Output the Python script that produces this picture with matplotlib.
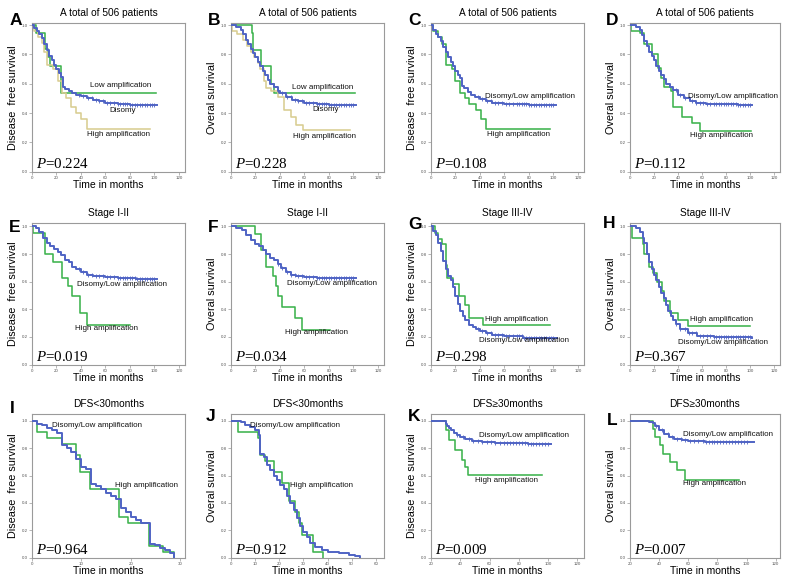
import numpy as np
import matplotlib
matplotlib.use("Agg")
import matplotlib.pyplot as plt

plt.rcParams['font.family'] = ['Liberation Sans', 'DejaVu Sans']
plt.rcParams['mathtext.fontset'] = 'custom'
plt.rcParams['mathtext.it'] = 'Liberation Serif:italic'
plt.rcParams['mathtext.rm'] = 'Liberation Serif'

# ---------------- data ----------------
TITLES = ["A total of 506 patients"] * 4 + ["Stage I-II"] * 2 + ["Stage III-IV"] * 2 + \
         ["DFS<30months"] * 2 + ["DFS\u226530months"] * 2
LETTERS = ["A", "B", "C", "D", "E", "F", "G", "H", "I", "J", "K", "L"]
YLABELS = ["Disease  free survival", "Overal survival"] * 6
P_VALUES = ["0.224", "0.228", "0.108", "0.112", "0.019", "0.034",
            "0.298", "0.367", "0.964", "0.912", "0.009", "0.007"]

# Panel A (DFS, three groups)
A_dis_t = [0, 2, 4, 6, 8, 10, 12, 14, 16, 18, 20, 22, 24, 25, 27, 30, 33, 36, 40, 45, 50, 55, 60, 70, 80, 90, 102]
A_dis_s = [1.0, 0.98, 0.96, 0.94, 0.91, 0.87, 0.83, 0.79, 0.76, 0.73, 0.70, 0.67, 0.645, 0.58, 0.565, 0.55, 0.535, 0.525, 0.515, 0.50, 0.49, 0.48, 0.47, 0.46, 0.455, 0.452, 0.452]
A_low_t = [0, 3.5, 11, 13, 14.5, 24, 101]
A_low_s = [1.0, 0.95, 0.84, 0.78, 0.72, 0.54, 0.54]
A_high_t = [0, 2, 5, 8, 10, 12, 17, 21, 24.5, 28, 32, 36, 40, 45, 96]
A_high_s = [1.0, 0.96, 0.92, 0.88, 0.82, 0.73, 0.70, 0.62, 0.54, 0.50, 0.44, 0.40, 0.36, 0.29, 0.29]

# Panel B (OS, three groups)
B_dis_t = [0, 4, 8, 10, 12, 14, 16, 18, 20, 22, 24, 26, 28, 30, 32, 35, 38, 40, 45, 50, 55, 60, 70, 80, 102]
B_dis_s = [1.0, 0.99, 0.97, 0.94, 0.90, 0.87, 0.84, 0.81, 0.78, 0.75, 0.72, 0.69, 0.66, 0.625, 0.60, 0.575, 0.55, 0.535, 0.51, 0.49, 0.48, 0.47, 0.46, 0.455, 0.455]
B_low_t = [0, 17, 18, 24.3, 32.5, 35.3, 101]
B_low_s = [1.0, 0.945, 0.83, 0.72, 0.60, 0.54, 0.54]
B_high_t = [0, 1, 5, 10, 13, 16, 19, 22, 24, 27, 29, 33, 38, 43.5, 49, 53, 59, 97]
B_high_s = [1.0, 0.96, 0.94, 0.90, 0.86, 0.82, 0.78, 0.74, 0.70, 0.62, 0.57, 0.55, 0.51, 0.42, 0.37, 0.32, 0.285, 0.285]

# Panel C (DFS, two groups)
C_dis_t = [0, 2, 4, 6, 8, 10, 12, 14, 16, 18, 20, 22, 24, 25, 27, 30, 33, 36, 40, 45, 50, 60, 70, 80, 90, 102]
C_dis_s = [1.0, 0.97, 0.94, 0.92, 0.89, 0.85, 0.82, 0.78, 0.75, 0.72, 0.69, 0.66, 0.64, 0.585, 0.57, 0.545, 0.525, 0.51, 0.495, 0.48, 0.47, 0.465, 0.46, 0.455, 0.452, 0.452]
C_high_t = [0, 2, 6, 9, 12, 17.5, 20, 24, 28, 31, 36.5, 41, 45, 97]
C_high_s = [1.0, 0.96, 0.92, 0.87, 0.73, 0.70, 0.62, 0.54, 0.50, 0.46, 0.42, 0.36, 0.29, 0.29]

# Panel D (OS, two groups)
D_dis_t = [0, 5, 8, 10, 12, 14, 16, 18, 20, 22, 24, 26, 28, 30, 33, 36, 40, 45, 50, 55, 63, 75, 90, 102]
D_dis_s = [1.0, 0.99, 0.97, 0.93, 0.89, 0.86, 0.82, 0.79, 0.76, 0.72, 0.69, 0.66, 0.63, 0.60, 0.58, 0.555, 0.525, 0.50, 0.48, 0.47, 0.465, 0.46, 0.456, 0.456]
D_high_t = [0, 1, 8, 12, 18, 23, 26, 28.5, 34.5, 36, 43, 52, 58.5, 101]
D_high_s = [1.0, 0.96, 0.95, 0.87, 0.80, 0.71, 0.64, 0.58, 0.55, 0.44, 0.37, 0.33, 0.28, 0.28]

# Panel E (DFS, stage I-II)
E_dis_t = [0, 3, 6, 9, 12, 15, 18, 21, 24, 27, 30, 33, 36, 40, 45, 50, 60, 70, 85, 102]
E_dis_s = [1.0, 0.99, 0.96, 0.92, 0.88, 0.86, 0.84, 0.815, 0.79, 0.76, 0.74, 0.71, 0.69, 0.67, 0.65, 0.64, 0.635, 0.63, 0.62, 0.62]
E_high_t = [0, 0.5, 11, 17.5, 24.3, 29.5, 33, 39, 45, 80]
E_high_s = [1.0, 0.95, 0.80, 0.74, 0.63, 0.57, 0.50, 0.37, 0.29, 0.29]

# Panel F (OS, stage I-II)
F_dis_t = [0, 4, 9, 12, 16, 20, 23, 26, 29, 32, 35, 38, 41, 45, 49, 53, 60, 70, 102]
F_dis_s = [1.0, 0.99, 0.975, 0.94, 0.90, 0.875, 0.855, 0.83, 0.80, 0.775, 0.755, 0.73, 0.70, 0.67, 0.65, 0.64, 0.635, 0.63, 0.63]
F_high_t = [0, 20, 24.3, 28.4, 34, 36.7, 38, 41.7, 52, 58.2, 81]
F_high_s = [1.0, 0.945, 0.83, 0.71, 0.64, 0.57, 0.50, 0.42, 0.34, 0.25, 0.25]

# Panel G (DFS, stage III-IV)
G_dis_t = [0, 2, 4, 6, 8, 10, 12, 14, 16, 18, 20, 22, 24, 26, 28, 31, 34, 37, 40, 45, 50, 60, 75, 103]
G_dis_s = [1.0, 0.97, 0.94, 0.88, 0.82, 0.75, 0.69, 0.64, 0.61, 0.56, 0.50, 0.44, 0.39, 0.35, 0.32, 0.29, 0.27, 0.255, 0.245, 0.23, 0.215, 0.205, 0.195, 0.195]
G_high_t = [0, 3, 6, 9, 12, 13, 18, 23, 28, 31, 42.5, 97]
G_high_s = [1.0, 0.95, 0.91, 0.87, 0.72, 0.63, 0.58, 0.50, 0.43, 0.34, 0.285, 0.285]

# Panel H (OS, stage III-IV)
H_dis_t = [0, 5, 8, 11, 12, 14, 16, 18, 20, 22, 24, 26, 28, 30, 32, 34, 36, 38, 42, 48, 56, 70, 102]
H_dis_s = [1.0, 0.99, 0.96, 0.92, 0.88, 0.80, 0.74, 0.69, 0.65, 0.61, 0.56, 0.52, 0.48, 0.43, 0.39, 0.355, 0.325, 0.295, 0.26, 0.23, 0.21, 0.20, 0.195]
H_high_t = [0, 1.3, 10.7, 12, 15.6, 18.8, 22.8, 26.3, 28, 33.5, 40, 48, 100]
H_high_s = [1.0, 0.92, 0.875, 0.80, 0.71, 0.66, 0.60, 0.53, 0.46, 0.375, 0.32, 0.28, 0.28]

# Panel I (DFS<30 months)
I_dis_t = [0, 1, 2, 3, 4, 5, 6, 7, 8, 9, 10, 11, 12, 13, 14, 15, 16, 17, 18, 19, 20, 21, 22, 24, 25, 26, 27, 28, 28.7]
I_dis_s = [1.0, 0.98, 0.97, 0.95, 0.93, 0.91, 0.82, 0.80, 0.77, 0.72, 0.66, 0.645, 0.54, 0.52, 0.50, 0.47, 0.45, 0.43, 0.36, 0.33, 0.30, 0.275, 0.255, 0.10, 0.09, 0.07, 0.055, 0.03, 0.0]
I_high_t = [0, 1, 3, 6, 9, 9.8, 11.8, 17.7, 19.5, 23.7, 26.5, 28.7]
I_high_s = [1.0, 0.917, 0.875, 0.833, 0.75, 0.625, 0.50, 0.30, 0.25, 0.083, 0.042, 0.0]

# Panel J (OS, DFS<30 months)
J_dis_t = [0, 4, 6, 8, 10, 11.5, 12, 13.5, 15, 16.3, 17.7, 19, 20.4, 21.8, 23.2, 24.5, 26, 27.3, 28.7, 30, 31.4, 32.8, 35, 37.7, 40.4, 44.6, 48.7, 51.4, 53.5]
J_dis_s = [1.0, 0.99, 0.97, 0.955, 0.93, 0.90, 0.76, 0.735, 0.68, 0.64, 0.60, 0.57, 0.53, 0.50, 0.45, 0.40, 0.35, 0.29, 0.23, 0.185, 0.15, 0.11, 0.077, 0.053, 0.04, 0.03, 0.017, 0.01, 0.0]
J_high_t = [0, 3, 11, 12, 14, 18, 21, 24, 26.5, 28, 29.5, 34, 38]
J_high_s = [1.0, 0.917, 0.875, 0.75, 0.708, 0.625, 0.542, 0.417, 0.333, 0.25, 0.167, 0.042, 0.0]

# Panel K (DFS>=30 months)
K_dis_t = [0, 30, 31, 32, 34, 36, 38, 40, 43, 48, 55, 64, 75, 86, 102]
K_dis_s = [1.0, 0.98, 0.965, 0.95, 0.935, 0.91, 0.895, 0.88, 0.867, 0.855, 0.845, 0.84, 0.835, 0.83, 0.83]
K_high_t = [0, 30, 32, 36.5, 41.5, 43, 45, 95.5]
K_high_s = [1.0, 0.93, 0.86, 0.79, 0.71, 0.66, 0.605, 0.605]

# Panel L (OS, DFS>=30 months)
L_dis_t = [0, 33, 35.7, 37, 40, 43.5, 46.8, 50, 56, 60, 65, 71.5, 105]
L_dis_s = [1.0, 0.995, 0.983, 0.964, 0.933, 0.904, 0.88, 0.864, 0.861, 0.856, 0.849, 0.842, 0.842]
L_high_t = [0, 36, 37.5, 40.5, 43, 47.5, 52, 58, 95]
L_high_s = [1.0, 0.94, 0.88, 0.82, 0.76, 0.70, 0.64, 0.57, 0.57]

CENSOR_T = [38, 42, 46, 49, 52, 55, 58, 61, 64, 67, 70, 72, 74, 76, 78, 80, 82, 84, 86, 88, 90, 92, 94, 96, 98, 100]

# ---------------- styling ----------------
BLUE = "#4f63c4"
GREEN = "#3db34e"
TAN = "#d9cd91"
FRAME = "#9a9a9a"

W, H = 790, 584
fig = plt.figure(figsize=(W / 100, H / 100), dpi=100)

COLS = [(32, 185), (231, 384), (431, 584), (630, 780)]
ROWS = [(23, 172), (223, 365), (414, 558)]
LETTER_POS = [(10, 25), (208, 25), (408, 25), (606, 25),
              (9, 232), (208, 232), (408, 229), (603, 228),
              (10, 413), (206, 421), (408, 421), (607, 425)]

PANEL_CURVES = [
    [(A_dis_t, A_dis_s, BLUE), (A_low_t, A_low_s, GREEN), (A_high_t, A_high_s, TAN)],
    [(B_dis_t, B_dis_s, BLUE), (B_low_t, B_low_s, GREEN), (B_high_t, B_high_s, TAN)],
    [(C_dis_t, C_dis_s, BLUE), (C_high_t, C_high_s, GREEN)],
    [(D_dis_t, D_dis_s, BLUE), (D_high_t, D_high_s, GREEN)],
    [(E_dis_t, E_dis_s, BLUE), (E_high_t, E_high_s, GREEN)],
    [(F_dis_t, F_dis_s, BLUE), (F_high_t, F_high_s, GREEN)],
    [(G_dis_t, G_dis_s, BLUE), (G_high_t, G_high_s, GREEN)],
    [(H_dis_t, H_dis_s, BLUE), (H_high_t, H_high_s, GREEN)],
    [(I_dis_t, I_dis_s, BLUE), (I_high_t, I_high_s, GREEN)],
    [(J_dis_t, J_dis_s, BLUE), (J_high_t, J_high_s, GREEN)],
    [(K_dis_t, K_dis_s, BLUE), (K_high_t, K_high_s, GREEN)],
    [(L_dis_t, L_dis_s, BLUE), (L_high_t, L_high_s, GREEN)],
]

DL = "Disomy/Low amplification"
HA = "High amplification"
PANEL_LABELS = [
    [("Low amplification", 47, 0.585), ("Disomy", 63, 0.42), (HA, 45, 0.25)],
    [("Low amplification", 50, 0.575), ("Disomy", 66.5, 0.427), (HA, 51, 0.24)],
    [(DL, 44.4, 0.512), (HA, 45.5, 0.253)],
    [(DL, 48, 0.51), (HA, 50, 0.243)],
    [(DL, 36.4, 0.583), (HA, 35, 0.258)],
    [(DL, 45.5, 0.588), (HA, 44.4, 0.229)],
    [(HA, 44, 0.33), (DL, 39, 0.173)],
    [(HA, 49.7, 0.327), (DL, 40.3, 0.163)],
    [(DL, 4.05, 0.969), (HA, 16.9, 0.525)],
    [(DL, 7.7, 0.969), (HA, 24.6, 0.528)],
    [(DL, 52.9, 0.89), (HA, 50.2, 0.563)],
    [(DL, 56.5, 0.897), (HA, 56.5, 0.545)],
]

XLIMS = [(0, 125)] * 8 + [(0, 31), (0, 63.4), (20, 124.5), (20, 123)]
XTICKS = [np.arange(0, 121, 20)] * 8 + [np.arange(0, 31, 10), np.arange(0, 61, 10),
                                        np.arange(20, 121, 20), np.arange(20, 121, 20)]
YTOPS = [1.015] * 4 + [1.025] * 4 + [1.05, 1.05, 1.05, 1.05]

for i in range(12):
    r, c = divmod(i, 4)
    l, rr = COLS[c]
    t, b = ROWS[r]
    ax = fig.add_axes([l / W, 1 - b / H, (rr - l) / W, (b - t) / H])
    for (tt, ss, col) in PANEL_CURVES[i]:
        tt = np.asarray(tt, float)
        ss = np.asarray(ss, float)
        lw = 1.4 if col == BLUE else 1.15
        ax.step(tt, ss, where='post', color=col, lw=lw, zorder=3 if col == BLUE else 2)
        if col == BLUE and i not in (8, 9):
            ct = np.array([x for x in CENSOR_T if x < tt[-1]])
            idx = np.searchsorted(tt, ct, side='right') - 1
            ax.plot(ct, ss[idx], ls='none', marker='|', ms=2.6, mew=0.6, color=col, zorder=3)
    for (txt, x, y) in PANEL_LABELS[i]:
        ax.text(x, y, txt, fontsize=5.8, ha='left', va='center', color='#111111', zorder=5)
    ax.text(0.025, 0.03, r"$P$=" + P_VALUES[i], transform=ax.transAxes,
            fontsize=10.8, family='Liberation Serif', ha='left', va='baseline')
    ax.set_xlim(*XLIMS[i])
    ax.set_ylim(-0.003, YTOPS[i])
    ax.set_xticks(XTICKS[i])
    ax.set_yticks(np.arange(0, 1.01, 0.2))
    ax.set_yticklabels([f"{v:.1f}" for v in np.arange(0, 1.01, 0.2)])
    ax.tick_params(labelsize=3.2, length=2, width=0.5, color=FRAME, labelcolor='#555555', pad=1)
    for sp in ax.spines.values():
        sp.set_color(FRAME)
        sp.set_linewidth(0.8)
    ax.set_title(TITLES[i], fontsize=7.3, pad=5)
    ax.set_ylabel(YLABELS[i], fontsize=7.8)
    ax.yaxis.set_label_coords(-0.09, 0.5)
    ax.set_xlabel("Time in months", fontsize=7.5)
    ax.xaxis.set_label_coords(0.5, -0.055)
    lx, ly = LETTER_POS[i]
    fig.text(lx / W, 1 - ly / H, LETTERS[i], fontsize=12.5, fontweight='bold',
             ha='left', va='baseline')

fig.savefig("out.png", dpi=100, facecolor='white')
